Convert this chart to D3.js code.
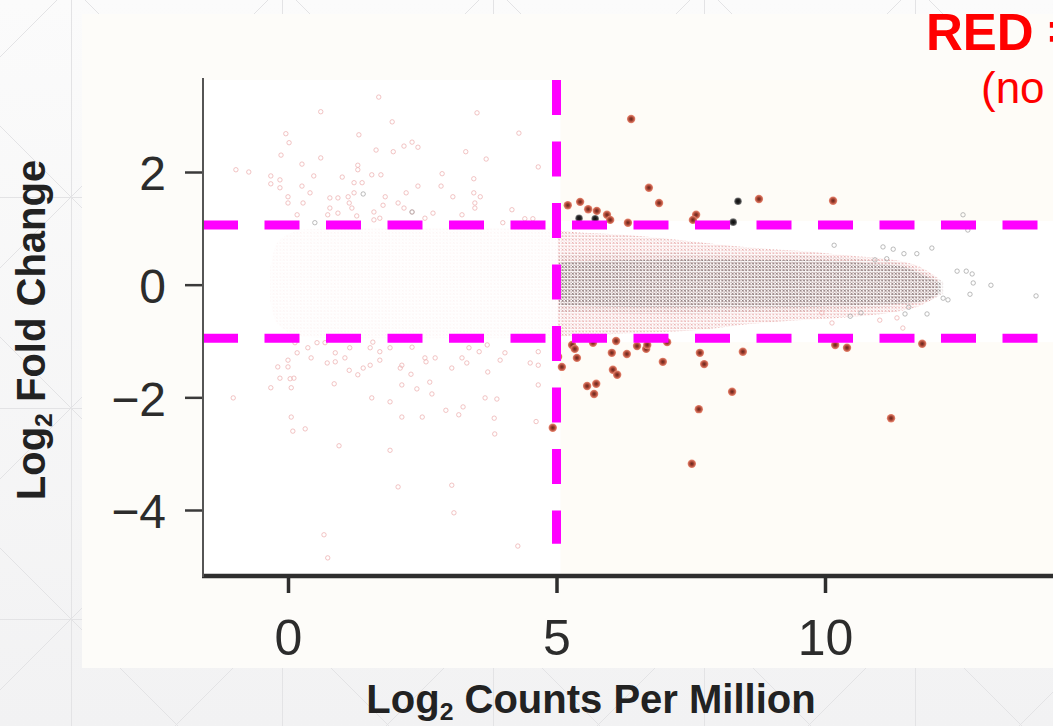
<!DOCTYPE html>
<html>
<head>
<meta charset="utf-8">
<script src="https://cdn.jsdelivr.net/npm/d3@7"></script>
<style>
  html, body { margin: 0; padding: 0; background: #f5f5f6; }
  svg { display: block; }
  text { font-family: "Liberation Sans", Arial, Helvetica, sans-serif; }
</style>
</head>
<body>
<svg width="1053" height="726"></svg>
<script>
// MA plot: log2 CPM vs log2 fold change, cutoffs drawn as dashed lines

var cpmCut = 5
var fcCuts = [1.06, -0.95]

var xTicks = [0, 5, 10]
var yTicks = [-4, -2, 0, 2]

// dense cloud of non-significant genes (envelopes, log2 CPM -> log2 FC)
var lowBandX   = [-0.33, -0.2, 0.3, 1, 2, 3, 4, 5]
var lowBandTop = [0.3, 0.75, 0.98, 1.0, 1.0, 1.0, 1.0, 1.0]
var lowBandBot = [-0.3, -0.7, -0.93, -0.95, -0.95, -0.95, -0.95, -0.95]

var haloX   = [5.02, 5.5, 6.0, 6.7, 7.7, 8.6, 9.5, 10.1, 10.65, 11.2, 11.8, 12.1]
var haloTop = [0.96, 0.92, 0.9, 0.85, 0.75, 0.66, 0.6, 0.55, 0.5, 0.45, 0.3, 0.12]
var haloBot = [-0.92, -0.9, -0.88, -0.85, -0.8, -0.7, -0.63, -0.6, -0.56, -0.5, -0.36, -0.2]

var midX   = [5.04, 5.5, 6.5, 7.5, 8.5, 9.5, 10.2, 10.8, 11.4, 11.9, 12.2]
var midTop = [0.55, 0.56, 0.57, 0.56, 0.54, 0.52, 0.49, 0.44, 0.38, 0.2, 0.06]
var midBot = [-0.5, -0.5, -0.52, -0.52, -0.5, -0.48, -0.45, -0.42, -0.38, -0.3, -0.16]

var coreX   = [5.05, 5.5, 6.5, 7.5, 8.5, 9.5, 10.2, 10.8, 11.4, 11.9, 12.15]
var coreTop = [0.39, 0.42, 0.44, 0.45, 0.44, 0.44, 0.42, 0.38, 0.33, 0.14, 0.04]
var coreBot = [-0.36, -0.38, -0.4, -0.4, -0.4, -0.4, -0.38, -0.36, -0.34, -0.27, -0.14]

// individual low-count genes
var faintUp = [
  [1.69,3.33],[0.61,3.07],[3.52,3.05],[1.94,2.89],[-0.04,2.68],[0.02,2.52],[1.32,2.66],
  [4.30,2.69],[-0.13,2.30],[0.61,2.25],[1.64,2.39],[1.96,2.36],[2.16,2.46],[2.31,2.53],
  [2.42,2.44],[3.31,2.36],[3.69,2.23],[4.66,2.09],[-0.97,2.04],[-0.73,2.0],[-0.32,1.93],
  [-0.15,1.86],[0.26,2.14],[0.48,1.93],[1.30,2.12],[1.30,2.04],[1.01,1.91],[1.56,1.95],
  [1.73,1.95],[2.87,1.97],[3.46,1.88],[-0.32,1.79],[-0.15,1.72],[0.26,1.75],[0.41,1.63],
  [0,1.56],[0,1.45],[0.28,1.45],[0.17,1.24],[0.78,1.54],[0.93,1.54],[1.12,1.56],
  [1.14,1.45],[1.23,1.81],[1.23,1.63],[1.38,1.81],[0.78,1.36],[0.93,1.27],[1.19,1.36],
  [1.28,1.22],[0.74,1.24],[1.60,1.29],[1.77,1.41],[1.81,1.56],[1.71,1.18],[1.60,1.15],
  [2.20,1.63],[2.05,1.45],[2.16,1.36],[2.31,1.29],[2.42,1.75],[2.85,1.75],[3.07,1.56],
  [3.46,1.63],[3.58,1.56],[3.48,1.45],[3.48,1.36],[3.24,1.24],[2.55,1.18],[2.70,1.27],
  [4.17,1.33],[4.41,1.17],[4.56,1.17],[4.00,1.10]
]
var faintDown = [
  [-1.02,-2.01],[-0.32,-1.83],[-0.19,-1.46],[-0.15,-1.66],[0,-1.34],[0,-1.46],[0.04,-1.67],
  [0.11,-1.66],[0.06,-1.83],[0.13,-1.03],[0.17,-1.21],[0.37,-1.12],[0.43,-1.30],[0.54,-1.03],
  [0.69,-1.03],[0.73,-1.39],[0.88,-1.21],[0.88,-1.37],[1.06,-1.30],[1.15,-1.12],[1.14,-1.52],
  [1.30,-1.60],[1.40,-1.48],[1.53,-1.43],[1.58,-1.02],[1.53,-1.12],[1.71,-1.19],[1.71,-1.34],
  [1.90,-1.12],[2.09,-1.48],[2.12,-1.43],[2.29,-1.59],[2.31,-1.11],[2.55,-1.30],[2.57,-1.37],
  [2.74,-1.30],[2.64,-1.73],[2.68,-1.94],[3.05,-1.48],[3.24,-1.30],[3.33,-1.39],[3.37,-1.12],
  [3.56,-1.19],[3.71,-1.07],[3.72,-1.55],[3.95,-1.34],[4.04,-1.21],[4.51,-1.39],[4.66,-1.43],
  [4.66,-1.19],[4.66,-1.78],[0.86,-1.76],[1.56,-2.01],[1.90,-2.08],[2.12,-1.78],[2.40,-1.85],
  [2.12,-2.35],[2.50,-2.35],[2.94,-2.23],[3.26,-2.17],[3.18,-2.31],[3.67,-2.01],[3.89,-2.03],
  [3.84,-2.37],[3.85,-2.65],[4.62,-2.43],[0.06,-2.35],[0.09,-2.60],[0.32,-2.56],[0.95,-2.86],
  [1.90,-2.94],[2.05,-3.59],[3.05,-3.56],[3.09,-4.05],[0.67,-4.44],[4.28,-4.64],[0.74,-4.85]
]
var greyPts = [
  [0.5,1.10],[1.40,1.61],[2.31,1.29],[10.17,0.70],[11.08,0.67],[11.27,0.63],[11.47,0.55],
  [11.71,0.55],[11.99,0.65],[11.15,0.46],[10.93,0.44],[12.46,0.24],[12.63,0.24],[12.74,0.19],
  [12.76,0.03],[13.09,-0.01],[12.70,-0.17],[13.93,-0.20],[12.20,-0.24],[12.29,-0.27],
  [11.56,-0.40],[11.90,-0.52],[11.49,-0.52],[10.47,-0.56],[10.67,-0.50],[12.66,0.97],[12.57,1.24]
]
var pinkRight = [[11.34,-0.59],[11.02,-0.63],[11.45,-0.77],[10.13,-0.68],[9.94,-0.50]]

// significant genes (CPM above cutoff, |FC| beyond cutoffs)
var sigRed = [
  [6.39,2.94],[6.72,1.72],[6.91,1.45],[5.21,1.41],[5.44,1.47],[5.59,1.34],[5.75,1.31],
  [5.94,1.24],[6.00,1.15],[6.33,1.10],[7.60,1.24],[7.54,1.15],[8.77,1.52],[10.15,1.49],
  [5.29,-1.07],[5.34,-1.14],[5.38,-1.30],[5.03,-1.28],[5.10,-1.46],[5.68,-1.03],[5.57,-1.80],
  [5.74,-1.76],[5.70,-1.94],[6.03,-1.21],[6.11,-1.00],[6.31,-1.23],[6.05,-1.51],[6.13,-1.60],
  [6.50,-1.09],[6.67,-1.14],[6.69,-1.07],[7.06,-1.02],[6.98,-1.37],[7.67,-1.21],[7.75,-1.41],
  [7.65,-2.21],[7.52,-3.18],[8.27,-1.90],[8.47,-1.19],[10.19,-1.07],[10.41,-1.12],
  [11.23,-2.37],[11.81,-1.05],[4.93,-2.54]
]
var sigBlack = [[5.42,1.18],[5.72,1.17],[8.38,1.48],[8.29,1.11]]

var W = 1053, H = 726
var panel = { left: 203, top: 80, bottom: 577, right: 1070 }

var x = d3.scaleLinear().domain([0, 10]).range([288, 825])
var y = d3.scaleLinear().domain([-4, 2]).range([510, 172])

var svg = d3.select('svg')
var defs = svg.append('defs')

// page backdrop
var bg = defs.append('linearGradient').attr('id', 'bgGrad')
  .attr('x1', 0).attr('y1', 0).attr('x2', 0).attr('y2', 1)
bg.append('stop').attr('offset', '0%').attr('stop-color', '#fbfbfb')
bg.append('stop').attr('offset', '100%').attr('stop-color', '#f2f2f3')

var grid = defs.append('pattern').attr('id', 'bgGrid')
  .attr('patternUnits', 'userSpaceOnUse')
  .attr('x', 71).attr('y', 197).attr('width', 211).attr('height', 211)
grid.append('path')
  .attr('d', 'M0.5,0V211M0,0.5H211M0,0L211,211M211,0L0,211')
  .attr('stroke', '#e3e3e5').attr('stroke-width', 1).attr('fill', 'none')

// overplotted point clouds
function cloudPattern(id, color, opacity, step, width) {
  var p = defs.append('pattern').attr('id', id)
    .attr('patternUnits', 'userSpaceOnUse')
    .attr('width', step).attr('height', step)
  var a = 0.4, b = step - 0.8
  p.append('path')
    .attr('d', 'M' + a + ',' + a + 'L' + b + ',' + b + 'M' + b + ',' + a + 'L' + a + ',' + b)
    .attr('stroke', color).attr('stroke-width', width)
    .attr('stroke-opacity', opacity).attr('fill', 'none')
}
cloudPattern('lowCloud', '#eab0b0', 0.16, 3.4, 0.6)
cloudPattern('haloCloud', '#dd8080', 0.75, 3.4, 0.7)
cloudPattern('midCloud', '#b09090', 0.55, 3.4, 0.7)
cloudPattern('coreCloud', '#787878', 0.95, 3.4, 0.75)

var sigGrad = defs.append('radialGradient').attr('id', 'sigRed')
sigGrad.append('stop').attr('offset', '0%').attr('stop-color', '#5e2520')
sigGrad.append('stop').attr('offset', '45%').attr('stop-color', '#a2402f')
sigGrad.append('stop').attr('offset', '100%').attr('stop-color', '#ec8a74')
var blkGrad = defs.append('radialGradient').attr('id', 'sigBlack')
blkGrad.append('stop').attr('offset', '0%').attr('stop-color', '#0b0b0b')
blkGrad.append('stop').attr('offset', '60%').attr('stop-color', '#2a2a2a')
blkGrad.append('stop').attr('offset', '100%').attr('stop-color', '#8a8a8a')

defs.append('filter').attr('id', 'soft')
  .append('feGaussianBlur').attr('stdDeviation', 0.5)

svg.append('rect').attr('width', W).attr('height', H).attr('fill', 'url(#bgGrad)')
svg.append('rect').attr('width', W).attr('height', H).attr('fill', 'url(#bgGrid)')

svg.append('rect')
  .attr('x', 82).attr('y', 14).attr('width', W).attr('height', 654)
  .attr('fill', '#fdfcf9')

svg.append('rect')
  .attr('x', panel.left).attr('y', panel.top)
  .attr('width', panel.right - panel.left).attr('height', panel.bottom - panel.top)
  .attr('fill', '#ffffff')

// regions past both cutoffs
var xc = x(cpmCut) + 4
svg.append('rect')
  .attr('x', xc).attr('y', panel.top)
  .attr('width', panel.right - xc).attr('height', y(fcCuts[0]) - 4 - panel.top)
  .attr('fill', '#fefcf7')
svg.append('rect')
  .attr('x', xc).attr('y', y(fcCuts[1]) + 4)
  .attr('width', panel.right - xc).attr('height', panel.bottom - y(fcCuts[1]) - 4)
  .attr('fill', '#fefcf7')

function band(xsArr, top, bot) {
  var pts = xsArr.map((v, i) => ({ x: v, t: top[i], b: bot[i] }))
  return d3.area()
    .curve(d3.curveMonotoneX)
    .x(d => x(d.x))
    .y0(d => y(d.b))
    .y1(d => y(d.t))(pts)
}

var plot = svg.append('g')
plot.append('path').attr('d', band(lowBandX, lowBandTop, lowBandBot)).attr('fill', 'url(#lowCloud)')
plot.append('path').attr('d', band(haloX, haloTop, haloBot)).attr('fill', 'url(#haloCloud)')
plot.append('path').attr('d', band(midX, midTop, midBot)).attr('fill', 'url(#midCloud)')
plot.append('path').attr('d', band(coreX, coreTop, coreBot)).attr('fill', 'url(#coreCloud)')

plot.selectAll('circle.faint')
  .data(faintUp.concat(faintDown, pinkRight))
  .enter().append('circle')
  .attr('class', 'faint')
  .attr('cx', d => x(d[0]))
  .attr('cy', d => y(d[1]))
  .attr('r', 2.2)
  .attr('fill', 'none')
  .attr('stroke', '#eeb4b4')
  .attr('stroke-width', 0.8)

plot.selectAll('circle.grey')
  .data(greyPts)
  .enter().append('circle')
  .attr('class', 'grey')
  .attr('cx', d => x(d[0]))
  .attr('cy', d => y(d[1]))
  .attr('r', 2.2)
  .attr('fill', 'none')
  .attr('stroke', '#a8a8a8')
  .attr('stroke-width', 0.8)

plot.selectAll('circle.sig')
  .data(sigRed)
  .enter().append('circle')
  .attr('class', 'sig')
  .attr('cx', d => x(d[0]))
  .attr('cy', d => y(d[1]))
  .attr('r', 4.2)
  .attr('fill', 'url(#sigRed)')
  .attr('filter', 'url(#soft)')

plot.selectAll('circle.blk')
  .data(sigBlack)
  .enter().append('circle')
  .attr('class', 'blk')
  .attr('cx', d => x(d[0]))
  .attr('cy', d => y(d[1]))
  .attr('r', 3.8)
  .attr('fill', 'url(#sigBlack)')
  .attr('filter', 'url(#soft)')

// cutoff lines
var dash = '35,26.5'
fcCuts.forEach(v => {
  svg.append('line')
    .attr('x1', panel.left).attr('x2', panel.right)
    .attr('y1', y(v)).attr('y2', y(v))
    .attr('stroke', '#ff00ff').attr('stroke-width', 9)
    .attr('stroke-dasharray', dash)
})
svg.append('line')
  .attr('x1', x(cpmCut)).attr('x2', x(cpmCut))
  .attr('y1', panel.top).attr('y2', y(-4.6))
  .attr('stroke', '#ff00ff').attr('stroke-width', 9)
  .attr('stroke-dasharray', dash)

// axes
var xAxis = svg.append('g')
  .attr('transform', 'translate(0,' + (panel.bottom - 1) + ')')
  .call(d3.axisBottom(x).tickValues(xTicks).tickFormat(d3.format('d')).tickSize(17).tickPadding(26))
xAxis.select('.domain').remove()
xAxis.selectAll('.tick line').attr('stroke', '#2e2e2e').attr('stroke-width', 3.5)
xAxis.selectAll('.tick text')
  .attr('fill', '#2c2c2c').style('font-size', '50px')
xAxis.append('line')
  .attr('x1', panel.left - 1).attr('x2', panel.right)
  .attr('stroke', '#2e2e2e').attr('stroke-width', 4.5)

var yAxis = svg.append('g')
  .attr('transform', 'translate(' + panel.left + ',0)')
  .call(d3.axisLeft(y).tickValues(yTicks).tickFormat(d3.format('d')).tickSize(18).tickPadding(19))
yAxis.select('.domain').remove()
yAxis.selectAll('.tick line').attr('stroke', '#3a3a3a').attr('stroke-width', 2.5)
yAxis.selectAll('.tick text')
  .attr('fill', '#2c2c2c').attr('dy', '0.37em').style('font-size', '48px')
yAxis.append('line')
  .attr('y1', panel.top - 2).attr('y2', panel.bottom)
  .attr('stroke', '#555').attr('stroke-width', 2)

// axis titles
function subTitle(g, main, sub, rest) {
  g.append('tspan').text(main)
  g.append('tspan').text(sub).attr('font-size', '0.62em').attr('dy', '0.28em')
  g.append('tspan').text(rest).attr('dy', '-0.17em')
}
var xt = svg.append('text')
  .attr('x', 591).attr('y', 713)
  .attr('text-anchor', 'middle')
  .attr('font-weight', 'bold').attr('font-size', 40)
  .attr('fill', '#222')
subTitle(xt, 'Log', '2', ' Counts Per Million')

var yt = svg.append('text')
  .attr('transform', 'translate(45,330) rotate(-90)')
  .attr('text-anchor', 'middle')
  .attr('font-weight', 'bold').attr('font-size', 40)
  .attr('fill', '#222')
subTitle(yt, 'Log', '2', ' Fold Change')

// colour key
svg.append('text')
  .attr('x', 926).attr('y', 50)
  .attr('font-weight', 'bold').attr('font-size', 51)
  .attr('fill', '#ff0000')
  .text('RED =')
svg.append('text')
  .attr('x', 981).attr('y', 103)
  .attr('font-size', 44)
  .attr('fill', '#ff0000')
  .text('(no')
</script>
</body>
</html>
